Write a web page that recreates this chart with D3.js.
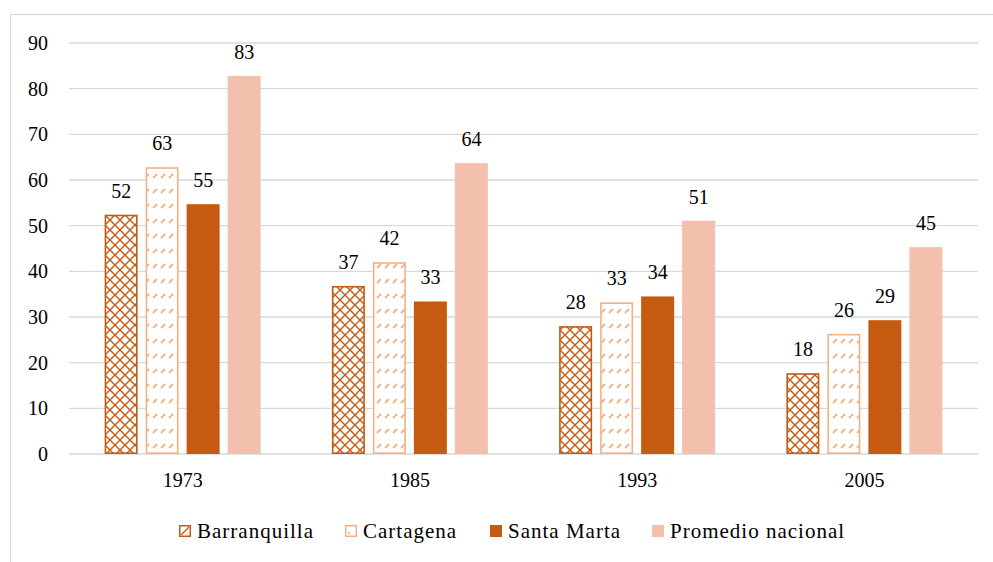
<!DOCTYPE html>
<html><head><meta charset="utf-8">
<script src="https://cdn.jsdelivr.net/npm/d3@7"></script>
<style>body{margin:0;background:#fff}svg{display:block}text{font-family:"Liberation Serif","DejaVu Serif",serif;fill:#000}</style>
</head><body><svg id="c" width="993" height="562"></svg>
<script>
const years = ["1973","1985","1993","2005"];
const seriesNames = ["Barranquilla","Cartagena","Santa Marta","Promedio nacional"];
const barranquilla = [52.4, 36.8, 28.0, 17.7];
const cartagena = [62.8, 42.0, 33.2, 26.3];
const santaMarta = [54.7, 33.4, 34.5, 29.3];
const promedio = [82.8, 63.7, 51.1, 45.3];
const labels = [[52,37,28,18],[63,42,33,26],[55,33,34,29],[83,64,51,45]];
const yTicks = [0,10,20,30,40,50,60,70,80,90];

const series = [barranquilla, cartagena, santaMarta, promedio];
const svg = d3.select("#c");
const defs = svg.append("defs");
const p1 = defs.append("pattern").attr("id","hatch1").attr("patternUnits","userSpaceOnUse").attr("width",10).attr("height",10);
p1.append("rect").attr("width",10).attr("height",10).attr("fill","#fff");
p1.append("path").attr("d","M0,0L10,10M10,0L0,10M-1,9L1,11M9,-1L11,1").attr("stroke","#C55A11").attr("stroke-width",1.4);
const p2 = defs.append("pattern").attr("id","hatch2").attr("patternUnits","userSpaceOnUse").attr("width",8).attr("height",15);
p2.append("rect").attr("width",8).attr("height",15).attr("fill","#fff");
p2.append("path").attr("d","M1,13L5,9").attr("stroke","#F4B183").attr("stroke-width",1.8);

const fills = ["url(#hatch1)","url(#hatch2)","#C55A11","#F4C0AE"];
const strokes = ["#C55A11","#F4B183","#C55A11","#F4C0AE"];
const legFills = ["#fff","#fff","#C55A11","#F4C0AE"];

svg.append("rect").attr("x",10.5).attr("y",14.5).attr("width",1100).attr("height",700).attr("fill","none").attr("stroke","#D9D9D9").attr("stroke-width",1.2);

const x = d3.scaleBand().domain(years).range([69,978]);
const y = d3.scaleLinear().domain([0,90]).range([454,43]);
const barW = 33, step = 41;

svg.append("g").selectAll("line").data(yTicks).join("line")
  .attr("x1",69).attr("x2",978).attr("y1",d=>y(d)).attr("y2",d=>y(d))
  .attr("stroke","#D9D9D9").attr("stroke-width",1.3);

const yAxis = d3.axisLeft(y).tickValues(yTicks).tickSize(0).tickPadding(0);
const ya = svg.append("g").attr("transform","translate(48,0)").call(yAxis);
ya.select(".domain").remove();
ya.selectAll("text").attr("font-size",20).attr("font-family",null).attr("fill","#000").attr("dy","0.32em");

const xAxis = d3.axisBottom(x).tickSize(0).tickPadding(0);
const xa = svg.append("g").attr("transform","translate(0,481)").call(xAxis);
xa.select(".domain").remove();
xa.selectAll("text").attr("font-size",20).attr("font-family",null).attr("fill","#000").attr("dy","0.32em");

series.forEach((vals, si) => {
  const g = svg.append("g");
  vals.forEach((v, ci) => {
    const cx = x(years[ci]) + x.bandwidth()/2;
    const bx = cx - (4*barW+3*(step-barW))/2 + si*step;
    const sw = si<2 ? 1.6 : 0;
    g.append("rect").attr("x",bx+sw/2).attr("y",y(v)+sw/2).attr("width",barW-sw).attr("height",y(0)-y(v)-sw)
      .attr("fill",fills[si]).attr("stroke",sw?strokes[si]:"none").attr("stroke-width",sw);
    g.append("text").attr("x",bx+barW/2).attr("y",y(v)-17).attr("text-anchor","middle")
      .attr("font-size",20).text(labels[si][ci]);
  });
});

const legX = [179,345,490,652];
const lg = svg.append("g");
seriesNames.forEach((n,i)=>{
  lg.append("rect").attr("x",legX[i]+0.75).attr("y",525.75).attr("width",10.5).attr("height",10.5)
    .attr("fill", legFills[i]).attr("stroke",strokes[i]).attr("stroke-width",1.5);
  if(i===0) lg.append("path").attr("d",`M${legX[i]+2},${535}L${legX[i]+10},${527}`).attr("stroke","#C55A11").attr("stroke-width",1.3);
  if(i===1) lg.append("path").attr("d",`M${legX[i]+3},${534}L${legX[i]+5},${532}`).attr("stroke","#F4B183").attr("stroke-width",1.3);
  lg.append("text").attr("x",legX[i]+18).attr("y",531).attr("dy","0.32em").attr("font-size",21).attr("letter-spacing",1).text(n);
});
</script></body></html>
